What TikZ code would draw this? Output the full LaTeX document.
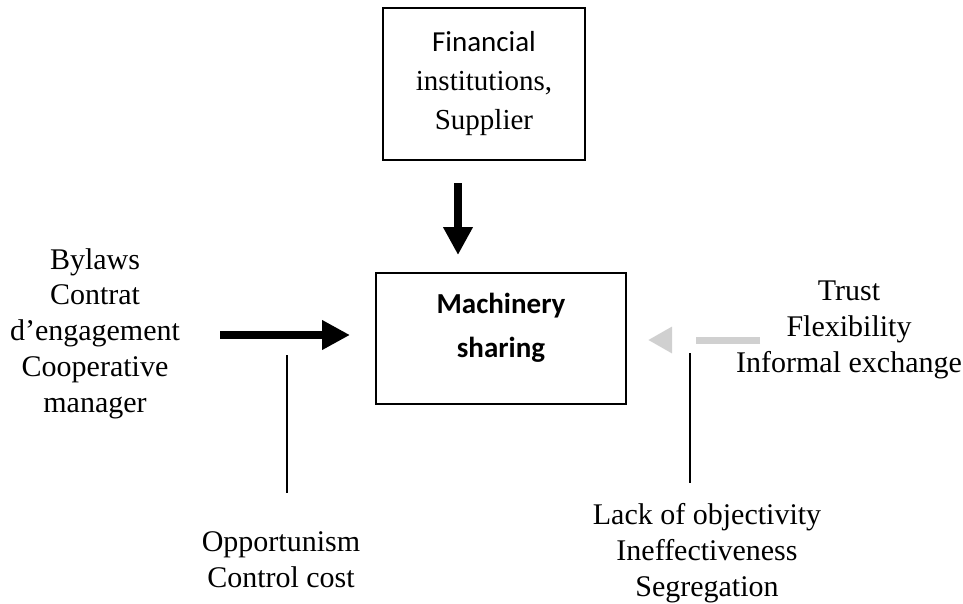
\documentclass[tikz,border=0pt]{standalone}
\usepackage{fontspec}
\setmainfont{Liberation Serif}
\newfontfamily\boxfont{Carlito}
\usetikzlibrary{arrows.meta,positioning}

\definecolor{lightarrow}{RGB}{208,208,208}

\begin{document}
\begin{tikzpicture}[x=1pt,y=-1pt,
        box/.style={draw,line width=2pt,minimum width=250pt,minimum height=131pt,align=center,inner sep=0pt},
        factors/.style={align=center,inner sep=0pt,font=\fontsize{30}{35.7}\selectfont},
        bigarrow/.style={line width=8pt,-{Triangle[length=28pt,width=28pt]}},
        weakarrow/.style={lightarrow,line width=7pt,dash pattern=on 64pt off 24pt,-{Triangle[length=24pt,width=25pt]}},
        thinline/.style={line width=1.3pt}]
        \useasboundingbox (0,0) rectangle (963,603);

        \node[box] (mach) at (501,338) {};
        \node[align=center,font=\boxfont\bfseries\fontsize{29}{44}\selectfont] (machtext) at ([yshift=10pt]mach.center) {Machinery\\sharing};
        \node[box,minimum width=202pt,minimum height=152pt,font=\fontsize{29}{39}\selectfont] (fin) at (484,84)
            {{\boxfont Financial}\\institutions,\\Supplier};

        \node[factors] (rules) at (95,333.5) {Bylaws\\Contrat\\d’engagement\\Cooperative\\manager};
        \node[factors] (trust) at (849,330) {Trust\\Flexibility\\Informal exchange};
        \node[factors] (opp) at (281,560) {Opportunism\\Control cost};
        \node[factors] (lack) at (707,553) {Lack of objectivity\\Ineffectiveness\\Segregation};

        % arrow ends
        \coordinate (dtop) at (458,183);
        \coordinate (dbot) at (458,255);
        \coordinate (lfrom) at (220,335);
        \coordinate (lto) at (350,335);
        \coordinate (rfrom) at (760,340);
        \coordinate (rto) at (648,340);
        \coordinate (lbar) at (287,355);
        \coordinate (rbar) at (690,353);

        \path (dtop) edge[bigarrow] (dbot)
              (lfrom) edge[bigarrow] (lto)
              (rfrom) edge[weakarrow] (rto)
              (lbar) edge[thinline] (287,493)
              (rbar) edge[thinline] (690,483);
    \end{tikzpicture}
\end{document}
